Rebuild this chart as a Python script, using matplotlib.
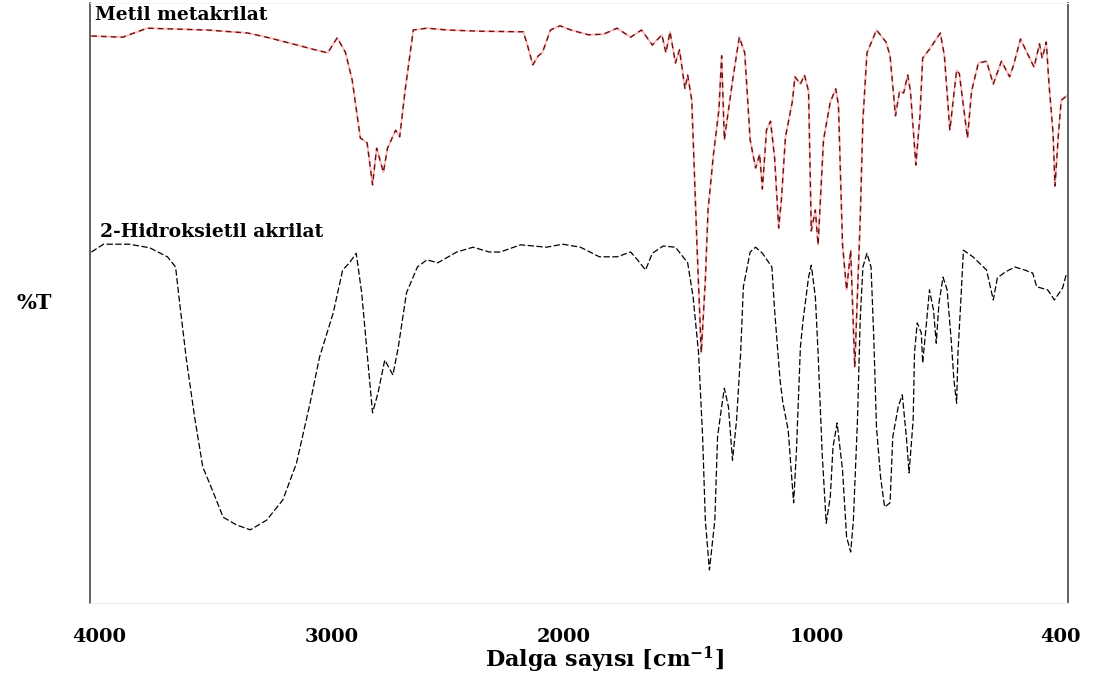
import numpy as np
import matplotlib.pyplot as plt

plt.rcParams['font.family'] = ['DejaVu Serif', 'Liberation Serif']
plt.rcParams['mathtext.fontset'] = 'dejavuserif'

# Metil metakrilat (wavenumber cm-1, %T)
mma_wn = [3995, 3880, 3790, 3570, 3420, 3350, 3255, 3180, 3125, 3090, 3060, 3035,
          3005, 2980, 2960, 2945, 2920, 2905, 2875, 2860, 2840, 2810, 2760, 2685,
          2565, 2405, 2390, 2370, 2350, 2335, 2305, 2270, 2230, 2165, 2110, 2060,
          2010, 1970, 1930, 1895, 1880, 1865, 1845, 1830, 1810, 1800, 1785, 1765,
          1750, 1735, 1725, 1705, 1685, 1675, 1665, 1635, 1610, 1590, 1570, 1550,
          1535, 1525, 1510, 1495, 1480, 1465, 1455, 1440, 1415, 1405, 1385, 1370,
          1355, 1345, 1330, 1320, 1300, 1275, 1255, 1245, 1230, 1215, 1200, 1185,
          1165, 1155, 1140, 1105, 1070, 1055, 1035, 1020, 1005, 990, 980, 960,
          945, 935, 910, 870, 855, 835, 810, 800, 770, 755, 730, 700, 675, 645,
          615, 600, 575, 525, 505, 495, 480, 470, 455, 448, 435, 425, 400]
mma_t = [94.5, 94.3, 95.8, 95.5, 95.0, 94.3, 93.2, 92.3, 91.7, 94.2, 91.8, 87.2,
         77.5, 76.7, 69.7, 75.8, 71.8, 75.8, 78.8, 77.7, 85.5, 95.5, 95.8, 95.5,
         95.3, 95.2, 93.0, 89.7, 91.2, 91.7, 95.5, 96.2, 95.5, 94.7, 94.8, 95.8,
         94.3, 95.5, 93.0, 94.7, 91.7, 95.2, 90.0, 92.2, 85.7, 88.0, 83.8, 58.8,
         41.7, 53.8, 65.5, 74.8, 82.2, 91.2, 77.2, 87.0, 94.3, 91.7, 77.2, 72.5,
         74.8, 69.0, 78.8, 80.3, 74.2, 62.5, 67.2, 77.7, 83.5, 87.7, 86.5, 88.0,
         85.3, 62.0, 65.5, 59.7, 77.2, 83.5, 85.7, 83.0, 59.7, 52.2, 58.8, 39.3,
         63.8, 80.5, 91.7, 95.5, 93.5, 91.2, 81.2, 85.3, 85.0, 88.0, 85.3, 73.0,
         81.2, 90.8, 92.3, 95.0, 91.2, 78.8, 88.8, 88.2, 77.5, 85.3, 90.0, 90.3,
         86.5, 90.3, 87.7, 89.7, 94.0, 89.3, 93.2, 90.8, 93.5, 86.5, 78.3, 69.5,
         78.3, 83.8, 84.7]

# 2-Hidroksietil akrilat
hea_wn = [3995, 3950, 3855, 3780, 3715, 3685, 3670, 3645, 3615, 3585, 3545, 3510,
          3460, 3410, 3350, 3290, 3240, 3190, 3155, 3105, 3070, 3045, 3020, 3000,
          2980, 2960, 2940, 2915, 2885, 2865, 2835, 2795, 2760, 2720, 2650, 2590,
          2530, 2490, 2415, 2320, 2260, 2195, 2125, 2060, 2010, 1985, 1955, 1930,
          1890, 1845, 1800, 1780, 1760, 1745, 1735, 1720, 1700, 1690, 1675, 1665,
          1650, 1635, 1620, 1605, 1595, 1570, 1550, 1525, 1490, 1480, 1460, 1450,
          1430, 1410, 1400, 1385, 1375, 1355, 1345, 1330, 1320, 1305, 1290, 1275,
          1265, 1250, 1230, 1215, 1200, 1190, 1175, 1165, 1155, 1140, 1125, 1115,
          1105, 1090, 1075, 1055, 1045, 1025, 1010, 995, 985, 970, 965, 955, 940,
          935, 920, 910, 895, 885, 875, 860, 845, 830, 820, 810, 805, 795, 785,
          750, 700, 675, 660, 630, 595, 560, 530, 515, 475, 450, 420, 405]
hea_t = [58.5, 59.8, 59.8, 59.2, 57.7, 56.0, 50.0, 40.5, 31.0, 22.7, 18.3, 14.3,
         13.0, 12.2, 13.8, 17.2, 23.3, 33.3, 41.0, 48.3, 55.5, 56.7, 58.3, 51.7,
         41.7, 31.7, 35.0, 40.5, 38.0, 42.7, 51.7, 56.0, 57.2, 56.7, 58.5, 59.3,
         58.5, 58.5, 59.7, 59.3, 59.8, 59.3, 57.7, 57.7, 58.5, 57.2, 55.5, 58.3,
         59.5, 59.3, 56.7, 51.0, 41.7, 27.7, 13.8, 5.5, 13.8, 27.7, 32.7, 35.8,
         32.7, 23.8, 30.5, 41.7, 52.7, 58.5, 59.3, 58.3, 56.0, 48.8, 37.2, 33.5,
         28.8, 16.7, 25.0, 42.7, 47.2, 54.3, 56.3, 51.0, 41.7, 25.0, 13.3, 17.7,
         26.0, 30.0, 22.2, 11.0, 8.5, 13.8, 30.5, 47.2, 56.0, 58.3, 56.0, 44.3,
         29.3, 21.0, 16.0, 16.7, 27.7, 32.7, 34.7, 27.7, 21.7, 30.5, 41.7, 46.7,
         45.0, 40.0, 47.2, 52.2, 48.8, 43.3, 50.0, 54.3, 52.2, 43.8, 37.2, 33.3,
         41.7, 50.0, 58.8, 57.7, 55.5, 50.5, 54.2, 55.2, 56.0, 55.5, 55.0, 52.7,
         52.2, 50.5, 52.5, 55.0]

tick_labels = ['4000', '3000', '2000', '1000', '400']
tick_pos = [3967, 3109, 2255, 1324, 429]   # labels sit off their values in the original

fig = plt.figure(figsize=(10.99, 6.83), dpi=100)
ax = fig.add_axes([0.0819, 0.1171, 0.8899, 0.8785])

# pink halo + dark red dashes
ax.plot(mma_wn, mma_t, color='#ffbcbc', linewidth=1.4)
ax.plot(mma_wn, mma_t, color='#6a1212', linewidth=1.0, dashes=(4, 3))
ax.plot(hea_wn, hea_t, color='black', linewidth=0.9, dashes=(5, 2))

ax.set_xlim(4000, 400)
ax.set_ylim(0, 100)
ax.set_yticks([])
ax.set_xticks(tick_pos)
ax.set_xticklabels(tick_labels, weight='bold', fontsize=14)
ax.tick_params(axis='x', length=0, pad=18)

for s in ['left', 'right']:
    ax.spines[s].set_color('#555555')
    ax.spines[s].set_linewidth(1.3)
ax.spines['bottom'].set_color('#eeeeee')
ax.spines['top'].set_color('#f4f4f4')

ax.text(0.005, 0.98, 'Metil metakrilat', transform=ax.transAxes,
        weight='bold', fontsize=13.5, ha='left', va='center')
ax.text(0.010, 0.618, '2-Hidroksietil akrilat', transform=ax.transAxes,
        weight='bold', fontsize=13.5, ha='left', va='center')

fig.text(34/1099, 1-303/683, '%T', weight='bold', fontsize=15,
         ha='center', va='center')
fig.text(604/1099, 1-660/683, r'Dalga sayısı [cm$^{\mathbf{-1}}$]', weight='bold', fontsize=16,
         ha='center', va='center')

fig.savefig('out.png', dpi=100, facecolor='white')
